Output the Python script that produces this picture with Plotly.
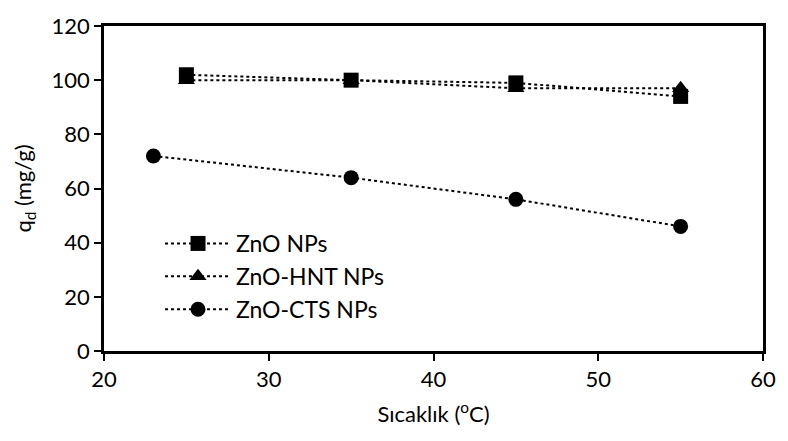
import plotly.graph_objects as go

# Adsorption capacity vs. temperature for three nanoparticle types
temp_zno = [25, 35, 45, 55]
q_zno = [102, 100, 99, 94]

temp_hnt = [25, 35, 45, 55]
q_hnt = [100, 100, 97, 97]

temp_cts = [23, 35, 45, 55]
q_cts = [72, 64, 56, 46]

series = [
    ("ZnO NPs", temp_zno, q_zno, "square", 15),
    ("ZnO-HNT NPs", temp_hnt, q_hnt, "triangle-up", 15),
    ("ZnO-CTS NPs", temp_cts, q_cts, "circle", 15),
]

FONT = "Lato, 'Open Sans', sans-serif"

fig = go.Figure()
for name, xs, ys, sym, sz in series:
    fig.add_trace(go.Scatter(
        x=xs, y=ys, name=name, mode="lines+markers",
        line=dict(color="black", width=2, dash="dot"),
        marker=dict(symbol=sym, size=sz, color="black"),
    ))

axis_common = dict(
    showline=True, linecolor="black", linewidth=2.5, mirror=True,
    ticks="outside", ticklen=7, tickwidth=1.5, tickcolor="black",
    showgrid=False, zeroline=False,
    tickfont=dict(family=FONT, size=22, color="black"),
)

fig.update_xaxes(range=[20, 60], dtick=10,
                 title=dict(text="Sıcaklık (<sup>o</sup>C)",
                            font=dict(family=FONT, size=22, color="black"), standoff=16),
                 **axis_common)
fig.update_yaxes(range=[0, 120], dtick=20,
                 title=dict(text="q<sub>d</sub> (mg/g)",
                            font=dict(family=FONT, size=22, color="black"), standoff=14),
                 **axis_common)

fig.update_layout(
    width=788, height=441,
    margin=dict(l=104, r=15, t=13, b=90),
    plot_bgcolor="white", paper_bgcolor="white",
    font=dict(family=FONT, size=22, color="black"),
    legend=dict(x=0.085, y=0.397, xanchor="left", yanchor="top",
                bgcolor="rgba(0,0,0,0)", tracegroupgap=0,
                font=dict(family=FONT, size=23, color="black"),
                itemwidth=66),
    showlegend=True,
)

fig.write_html("out.html")
